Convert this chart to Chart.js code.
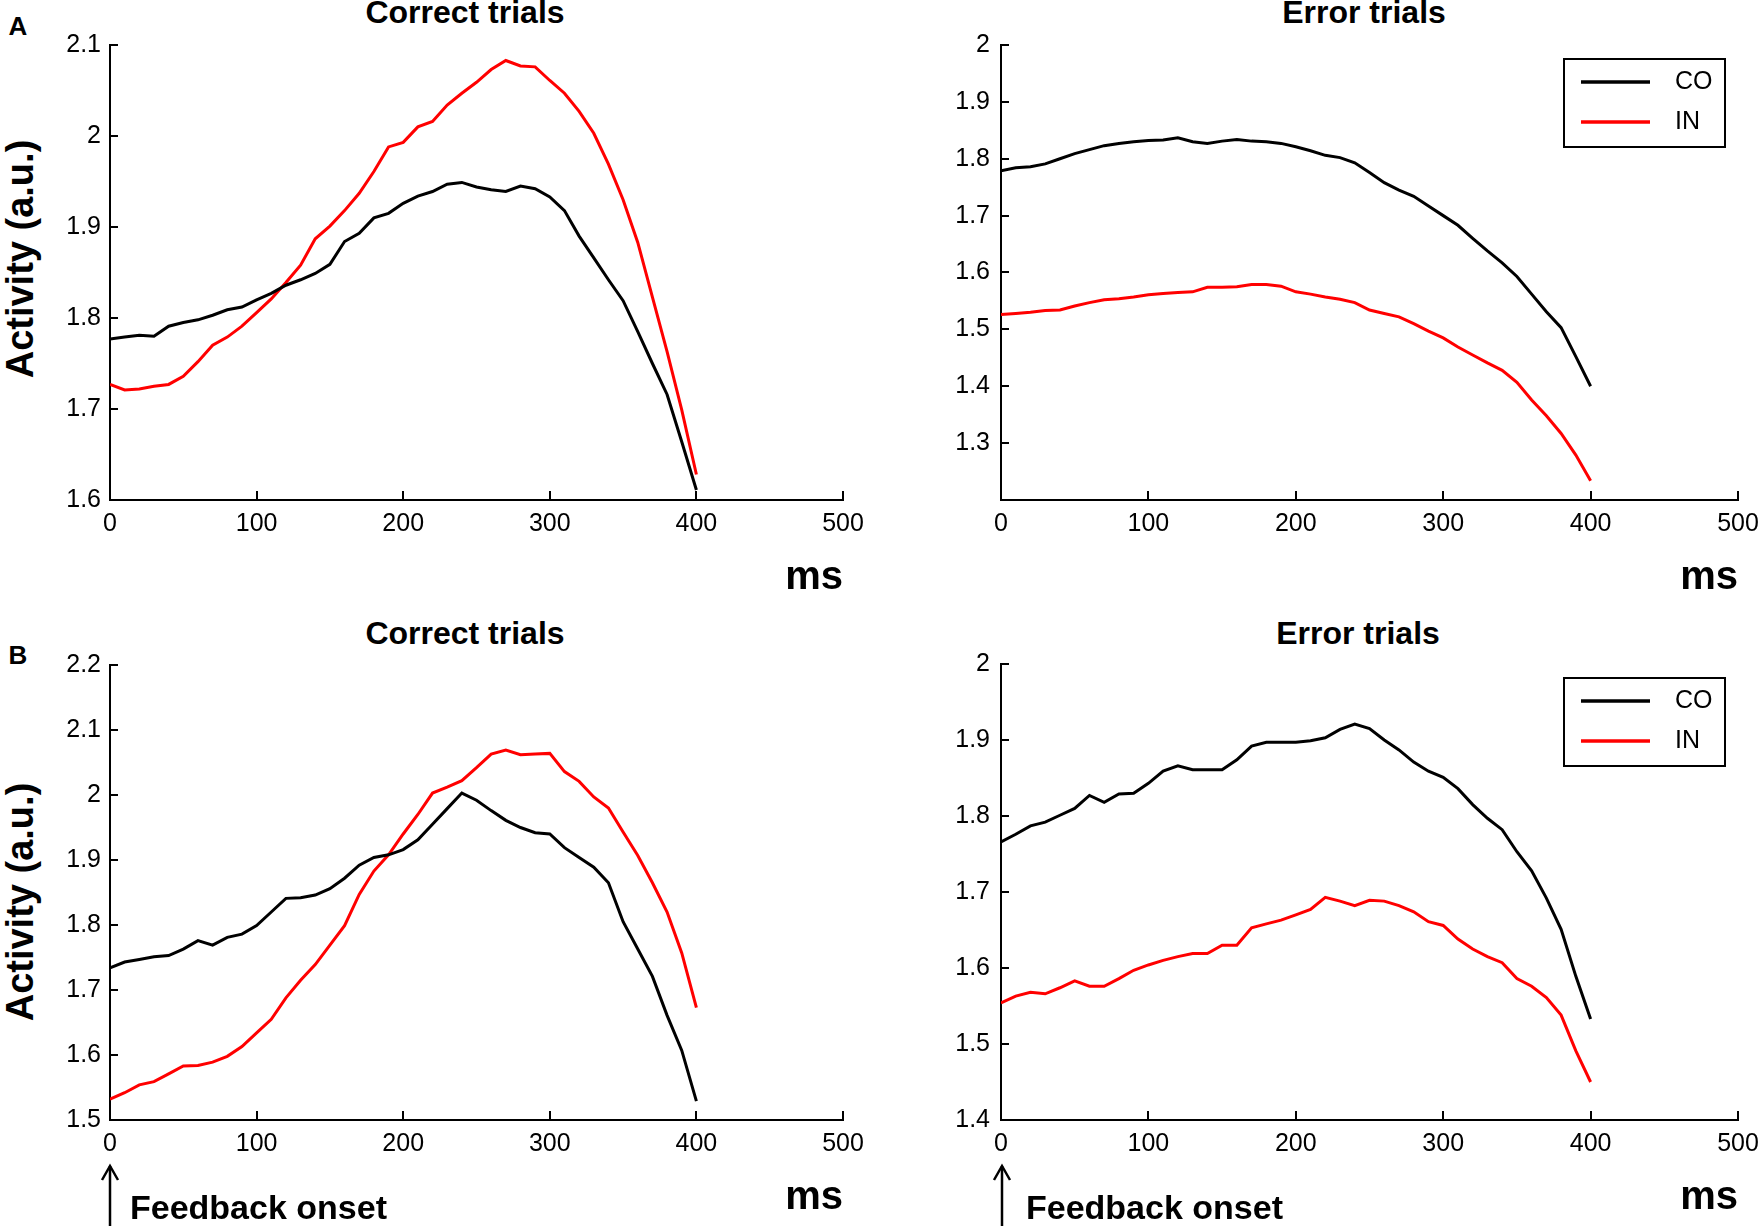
<!DOCTYPE html>
<html>
<head>
<meta charset="utf-8">
<title>Activity - correct and error trials</title>
<script src="https://cdn.jsdelivr.net/npm/chart.js@4.4.1/dist/chart.umd.min.js"></script>
<style>
    html, body { margin: 0; padding: 0; background: #fff; }
    body { width: 1758px; height: 1226px; position: relative; overflow: hidden; font-family: 'Liberation Sans', Arial, sans-serif; color: #000; }
    .panel { position: absolute; width: 879px; height: 613px; }
    .lbl { position: absolute; transform: translate(-50%, -50%); white-space: nowrap; font-weight: bold; line-height: 1; }
    .title { font-size: 32px; }
    .letter { font-size: 26px; }
    .ylab { font-size: 38px; transform: translate(-50%, -50%) rotate(-90deg); }
    .onset { position: absolute; transform: translateY(-50%); font-size: 34px; font-weight: bold; line-height: 1; white-space: nowrap; }
    svg.arrows { position: absolute; left: 0; top: 1150px; }
</style>
</head>
<body>

<div class="lbl letter" style="left:18px; top:26px;">A</div>
<div class="lbl letter" style="left:18px; top:655px;">B</div>

<div class="lbl title" style="left:465px; top:12px;">Correct trials</div>
<div class="lbl title" style="left:1364px; top:12px;">Error trials</div>
<div class="lbl title" style="left:465px; top:633px;">Correct trials</div>
<div class="lbl title" style="left:1358px; top:633px;">Error trials</div>

<div class="lbl ylab" style="left:20px; top:259px;">Activity (a.u.)</div>
<div class="lbl ylab" style="left:20px; top:902px;">Activity (a.u.)</div>

<div class="panel" style="left:0; top:0;"><canvas id="aCorrect" width="879" height="613"></canvas></div>
<div class="panel" style="left:879px; top:0;"><canvas id="aError" width="879" height="613"></canvas></div>
<div class="panel" style="left:0; top:613px;"><canvas id="bCorrect" width="879" height="613"></canvas></div>
<div class="panel" style="left:879px; top:613px;"><canvas id="bError" width="879" height="613"></canvas></div>

<!-- feedback onset markers -->
<svg class="arrows" width="1758" height="76">
    <g stroke="#000" stroke-width="2.5" fill="none">
        <line x1="110" y1="16" x2="110" y2="76"/>
        <polyline points="102,30 110,16 118,30"/>
        <line x1="1002" y1="16" x2="1002" y2="76"/>
        <polyline points="994,30 1002,16 1010,30"/>
    </g>
</svg>
<div class="onset" style="left:130px; top:1207px;">Feedback onset</div>
<div class="onset" style="left:1026px; top:1207px;">Feedback onset</div>

<script>
// Time axis (ms after feedback)
const timeMs = [0, 10, 20, 30, 40, 50, 60, 70, 80, 90, 100, 110, 120, 130, 140, 150, 160, 170, 180, 190, 200,
    210, 220, 230, 240, 250, 260, 270, 280, 290, 300, 310, 320, 330, 340, 350, 360, 370, 380, 390, 400];
const xTicks = [0, 100, 200, 300, 400, 500];

// Panel A - correct trials
const aCorrectCO = [1.777, 1.779, 1.781, 1.780, 1.791, 1.795, 1.798, 1.803, 1.809, 1.812, 1.820, 1.827, 1.836, 1.842,
    1.849, 1.859, 1.884, 1.893, 1.910, 1.915, 1.926, 1.934, 1.939, 1.947, 1.949, 1.944, 1.941, 1.939, 1.945, 1.942,
    1.933, 1.918, 1.890, 1.866, 1.842, 1.819, 1.785, 1.750, 1.716, 1.664, 1.611];
const aCorrectIN = [1.727, 1.721, 1.722, 1.725, 1.727, 1.736, 1.752, 1.770, 1.779, 1.791, 1.806, 1.821, 1.839, 1.858,
    1.887, 1.901, 1.918, 1.937, 1.961, 1.988, 1.993, 2.010, 2.016, 2.034, 2.047, 2.059, 2.073, 2.083, 2.077, 2.076,
    2.061, 2.047, 2.027, 2.003, 1.969, 1.930, 1.883, 1.823, 1.763, 1.699, 1.628];
const aCorrectYTicks = [1.6, 1.7, 1.8, 1.9, 2, 2.1];

// Panel A - error trials
const aErrorCO = [1.779, 1.784, 1.786, 1.791, 1.800, 1.809, 1.816, 1.823, 1.827, 1.830, 1.832, 1.833, 1.837, 1.830,
    1.827, 1.831, 1.834, 1.831, 1.830, 1.827, 1.821, 1.814, 1.806, 1.802, 1.793, 1.776, 1.758, 1.745, 1.734, 1.717,
    1.700, 1.683, 1.660, 1.638, 1.617, 1.593, 1.562, 1.531, 1.503, 1.452, 1.400];
const aErrorIN = [1.526, 1.528, 1.530, 1.533, 1.534, 1.541, 1.547, 1.552, 1.554, 1.557, 1.561, 1.563, 1.565, 1.566,
    1.574, 1.574, 1.575, 1.579, 1.579, 1.576, 1.566, 1.562, 1.557, 1.553, 1.547, 1.534, 1.528, 1.522, 1.510, 1.497,
    1.485, 1.469, 1.455, 1.441, 1.428, 1.407, 1.376, 1.348, 1.317, 1.279, 1.234];
const aErrorYTicks = [1.3, 1.4, 1.5, 1.6, 1.7, 1.8, 1.9, 2];
const aErrorYMin = 1.2;

// Panel B - correct trials
const bCorrectCO = [1.734, 1.743, 1.747, 1.751, 1.753, 1.763, 1.776, 1.769, 1.781, 1.786, 1.799, 1.820, 1.841, 1.842,
    1.846, 1.856, 1.872, 1.892, 1.904, 1.908, 1.916, 1.931, 1.955, 1.979, 2.003, 1.992, 1.976, 1.961, 1.950, 1.942,
    1.940, 1.919, 1.904, 1.889, 1.865, 1.805, 1.763, 1.721, 1.661, 1.607, 1.529];
const bCorrectIN = [1.532, 1.542, 1.554, 1.559, 1.571, 1.583, 1.584, 1.589, 1.598, 1.613, 1.634, 1.655, 1.688, 1.715,
    1.739, 1.769, 1.799, 1.847, 1.883, 1.908, 1.940, 1.970, 2.003, 2.012, 2.022, 2.042, 2.063, 2.069, 2.062, 2.063,
    2.064, 2.036, 2.021, 1.997, 1.980, 1.943, 1.907, 1.865, 1.820, 1.757, 1.673];
const bCorrectYTicks = [1.5, 1.6, 1.7, 1.8, 1.9, 2, 2.1, 2.2];

// Panel B - error trials
const bErrorCO = [1.766, 1.776, 1.787, 1.792, 1.801, 1.810, 1.827, 1.818, 1.829, 1.830, 1.843, 1.859, 1.866, 1.861,
    1.861, 1.861, 1.874, 1.892, 1.897, 1.897, 1.897, 1.899, 1.903, 1.914, 1.921, 1.915, 1.900, 1.887, 1.871, 1.859,
    1.851, 1.836, 1.815, 1.797, 1.782, 1.753, 1.728, 1.692, 1.651, 1.589, 1.533];
const bErrorIN = [1.554, 1.563, 1.568, 1.566, 1.574, 1.583, 1.576, 1.576, 1.586, 1.597, 1.604, 1.610, 1.615, 1.619,
    1.619, 1.630, 1.630, 1.653, 1.658, 1.663, 1.670, 1.677, 1.693, 1.688, 1.682, 1.689, 1.688, 1.682, 1.674, 1.661,
    1.656, 1.638, 1.625, 1.615, 1.607, 1.586, 1.576, 1.561, 1.538, 1.491, 1.450];
const bErrorYTicks = [1.4, 1.5, 1.6, 1.7, 1.8, 1.9, 2];

const FONT = "'Liberation Sans', Arial, sans-serif";

// Matlab style tick marks pointing into the plot
const innerTicks = {
    id: 'innerTicks',
    afterDraw(chart) {
        const { ctx, chartArea, scales: { x, y } } = chart;
        ctx.save();
        ctx.strokeStyle = '#000';
        ctx.lineWidth = 2;
        ctx.beginPath();
        x.ticks.forEach(t => {
            const px = Math.round(x.getPixelForValue(t.value));
            ctx.moveTo(px, chartArea.bottom);
            ctx.lineTo(px, chartArea.bottom - 9);
        });
        y.ticks.forEach(t => {
            const py = Math.round(y.getPixelForValue(t.value));
            ctx.moveTo(chartArea.left, py);
            ctx.lineTo(chartArea.left + 8, py);
        });
        ctx.stroke();
        ctx.restore();
    }
};

// Boxed legend in the upper right corner
const legendBox = {
    id: 'legendBox',
    afterDraw(chart, args, opts) {
        if (!opts.show) return;
        const { ctx, chartArea } = chart;
        const w = 161, h = 88;
        const bx = chartArea.right - 13 - w;
        const by = chartArea.top + 14;
        ctx.save();
        ctx.fillStyle = '#fff';
        ctx.fillRect(bx, by, w, h);
        ctx.strokeStyle = '#000';
        ctx.lineWidth = 2;
        ctx.strokeRect(bx, by, w, h);
        ctx.font = '25px ' + FONT;
        ctx.textBaseline = 'middle';
        chart.data.datasets.forEach((ds, i) => {
            const ly = by + 23 + i * 40;
            ctx.strokeStyle = ds.borderColor;
            ctx.lineWidth = 3.5;
            ctx.beginPath();
            ctx.moveTo(bx + 17, ly);
            ctx.lineTo(bx + 86, ly);
            ctx.stroke();
            ctx.fillStyle = '#000';
            ctx.fillText(ds.label, bx + 111, ly);
        });
        ctx.restore();
    }
};

function toPoints(values) {
    return timeMs.map((t, i) => ({ x: t, y: values[i] }));
}

// area = chart area inside the 879x613 canvas
function makePanel(id, co, inn, yTicks, yMin, area, msPad, showLegend) {
    const ctx = document.getElementById(id).getContext('2d');
    return new Chart(ctx, {
        type: 'line',
        data: {
            datasets: [
                { label: 'CO', data: toPoints(co), borderColor: '#000000', borderWidth: 3, pointRadius: 0, tension: 0 },
                { label: 'IN', data: toPoints(inn), borderColor: '#ff0000', borderWidth: 3, pointRadius: 0, tension: 0 }
            ]
        },
        options: {
            responsive: false,
            animation: false,
            devicePixelRatio: 1,
            layout: { padding: { left: 0, top: area.top, right: 879 - area.right, bottom: 0 } },
            plugins: {
                legend: { display: false },
                tooltip: { enabled: false },
                legendBox: { show: showLegend }
            },
            scales: {
                x: {
                    type: 'linear',
                    min: xTicks[0],
                    max: xTicks[xTicks.length - 1],
                    afterBuildTicks: s => { s.ticks = xTicks.map(v => ({ value: v })); },
                    afterFit: s => { s.height = 613 - area.bottom; s.paddingLeft = 0; s.paddingRight = 0; },
                    grid: { display: false, drawTicks: false },
                    border: { display: true, color: '#000', width: 2 },
                    ticks: { padding: 9, color: '#000', maxRotation: 0, autoSkip: false, font: { family: FONT, size: 25 } },
                    title: {
                        display: true, text: 'ms', align: 'end', color: '#000',
                        font: { family: FONT, size: 40, weight: 'bold' },
                        padding: { top: 0, bottom: msPad }
                    }
                },
                y: {
                    type: 'linear',
                    min: yMin,
                    max: yTicks[yTicks.length - 1],
                    afterBuildTicks: s => { s.ticks = yTicks.map(v => ({ value: v })); },
                    afterFit: s => { s.width = area.left; s.paddingTop = 0; s.paddingBottom = 0; },
                    grid: { display: false, drawTicks: false },
                    border: { display: true, color: '#000', width: 2 },
                    ticks: {
                        padding: area.left > 115 ? 11 : 9,
                        color: '#000',
                        font: { family: FONT, size: 25 },
                        callback: v => String(Math.round(v * 10) / 10)
                    }
                }
            }
        },
        plugins: [innerTicks, legendBox]
    });
}

makePanel('aCorrect', aCorrectCO, aCorrectIN, aCorrectYTicks, aCorrectYTicks[0],
    { left: 110, top: 45, right: 843, bottom: 500 }, 11, false);
makePanel('aError', aErrorCO, aErrorIN, aErrorYTicks, aErrorYMin,
    { left: 122, top: 45, right: 859, bottom: 500 }, 11, true);
makePanel('bCorrect', bCorrectCO, bCorrectIN, bCorrectYTicks, bCorrectYTicks[0],
    { left: 110, top: 52, right: 843, bottom: 507 }, 4, false);
makePanel('bError', bErrorCO, bErrorIN, bErrorYTicks, bErrorYTicks[0],
    { left: 122, top: 51, right: 859, bottom: 507 }, 4, true);
</script>
</body>
</html>
